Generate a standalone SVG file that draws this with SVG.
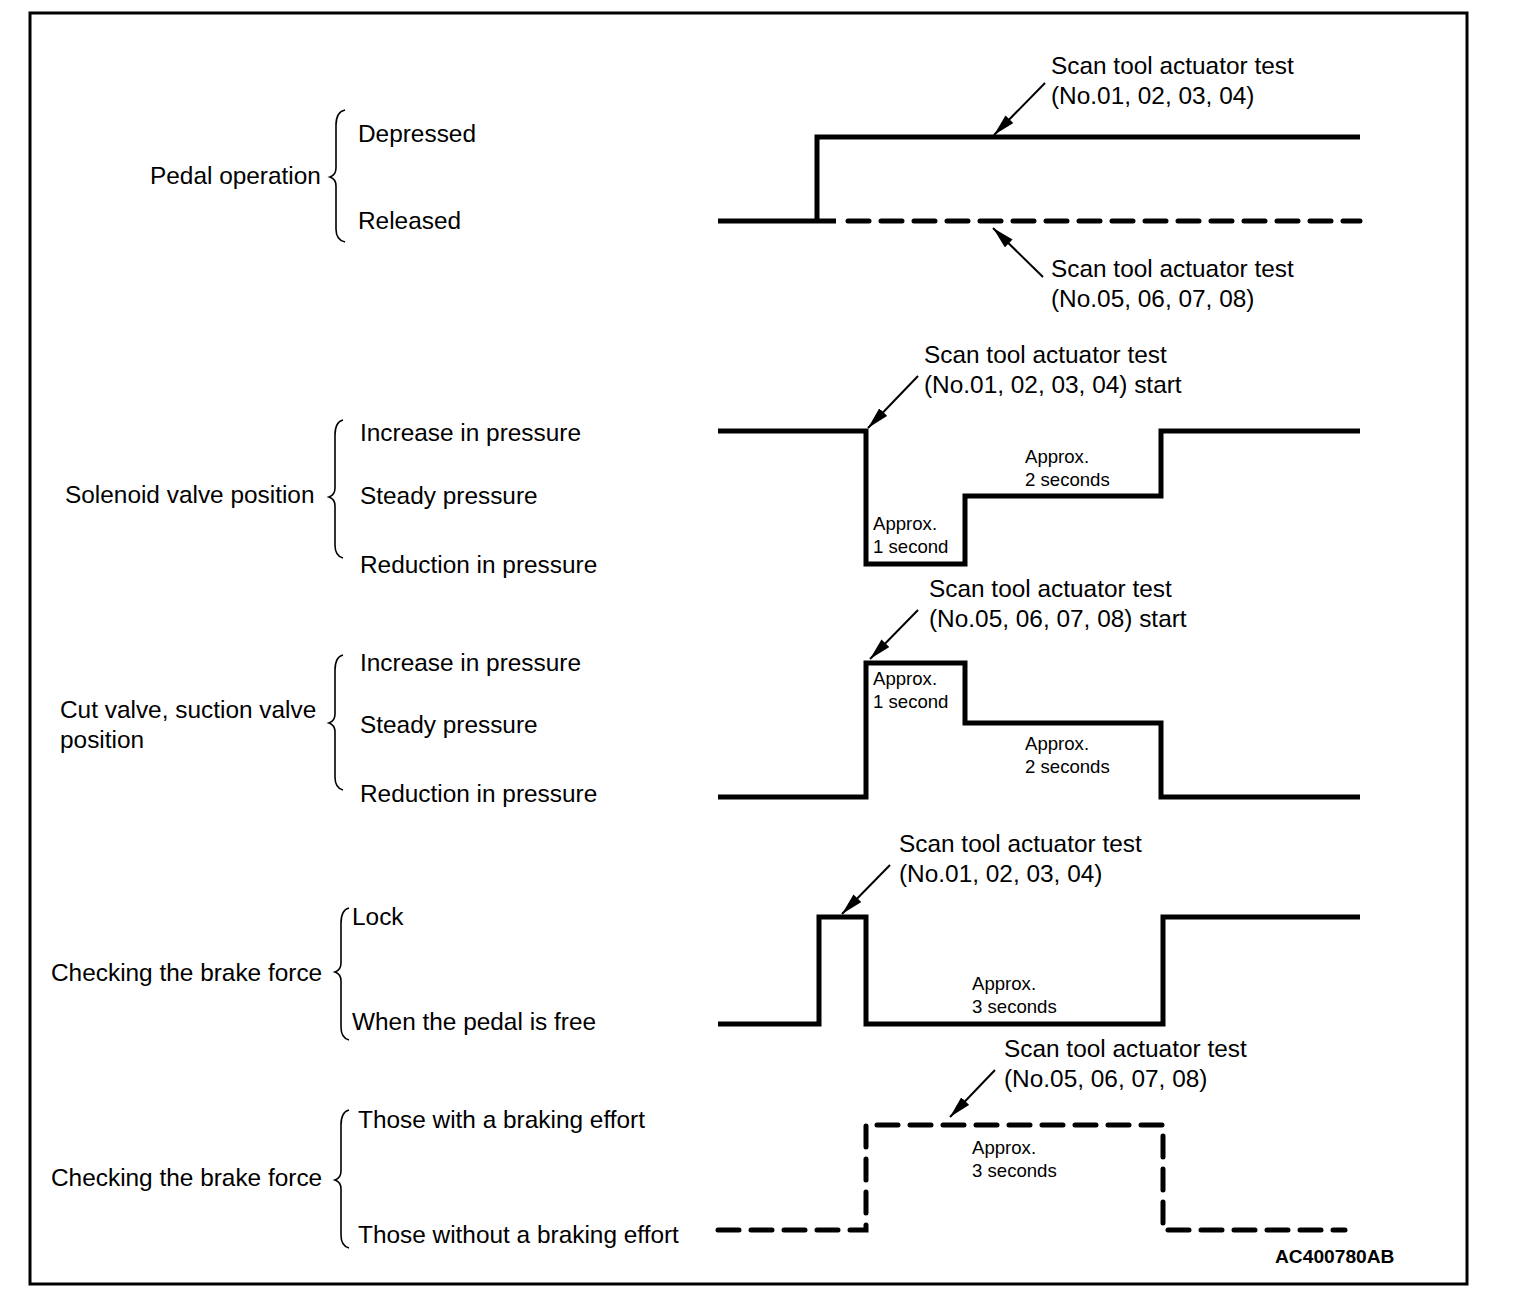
<svg xmlns="http://www.w3.org/2000/svg" width="1520" height="1292" viewBox="0 0 1520 1292">
<style>
.t{font-family:"Liberation Sans",Arial,sans-serif;font-size:24.4px;fill:#000}
.s{font-family:"Liberation Sans",Arial,sans-serif;font-size:18.6px;fill:#000}
.b{font-family:"Liberation Sans",Arial,sans-serif;font-size:19.2px;font-weight:bold;fill:#000}
.w{fill:none;stroke:#000;stroke-width:5;stroke-linejoin:miter}
.d{fill:none;stroke:#000;stroke-width:5;stroke-dasharray:21 12;stroke-linecap:round}
.br{fill:none;stroke:#000;stroke-width:1.6}
.ar{fill:none;stroke:#000;stroke-width:2;marker-end:url(#ah)}
</style>
<defs>
<marker id="ah" viewBox="0 0 22 11" refX="22" refY="5.5" markerWidth="22" markerHeight="11" markerUnits="userSpaceOnUse" orient="auto">
<path d="M0,0 L22,5.5 L0,11 z" fill="#000"/>
</marker>
</defs>
<rect x="30" y="13" width="1437" height="1271" fill="#fff" stroke="#000" stroke-width="3"/>

<g id="pedal">
<text class="t" x="150" y="184">Pedal operation</text>
<path class="br" d="M345,110 Q336,112 336,125 L336,168 Q336,175 330,177 Q336,179 336,186 L336,229 Q336,240 345,242"/>
<text class="t" x="358" y="142">Depressed</text>
<text class="t" x="358" y="229">Released</text>
</g>

<g id="solenoid">
<text class="t" x="65" y="503">Solenoid valve position</text>
<path class="br" d="M343,420 Q335,422 335,435 L335,488 Q335,495 329,497 Q335,499 335,506 L335,545 Q335,556 343,558"/>
<text class="t" x="360" y="441">Increase in pressure</text>
<text class="t" x="360" y="504">Steady pressure</text>
<text class="t" x="360" y="573">Reduction in pressure</text>
</g>

<g id="cutvalve">
<text class="t" x="60" y="718">Cut valve, suction valve</text>
<text class="t" x="60" y="748">position</text>
<path class="br" d="M343,655 Q335,657 335,670 L335,714 Q335,721 329,723 Q335,725 335,732 L335,777 Q335,788 343,790"/>
<text class="t" x="360" y="671">Increase in pressure</text>
<text class="t" x="360" y="733">Steady pressure</text>
<text class="t" x="360" y="802">Reduction in pressure</text>
</g>

<g id="brake1">
<text class="t" x="51" y="981">Checking the brake force</text>
<path class="br" d="M349,908 Q341,910 341,923 L341,963 Q341,970 335,972 Q341,974 341,981 L341,1027 Q341,1038 349,1040"/>
<text class="t" x="352" y="925">Lock</text>
<text class="t" x="352" y="1030">When the pedal is free</text>
</g>

<g id="brake2">
<text class="t" x="51" y="1186">Checking the brake force</text>
<path class="br" d="M349,1110 Q341,1112 341,1125 L341,1171 Q341,1178 335,1180 Q341,1182 341,1189 L341,1235 Q341,1246 349,1248"/>
<text class="t" x="358" y="1128">Those with a braking effort</text>
<text class="t" x="358" y="1243">Those without a braking effort</text>
</g>

<g id="connectors">
<polyline class="w" points="718,221 836,221"/>
<polyline class="w" points="817,221 817,137 1360,137"/>
<line class="d" x1="848" y1="221" x2="1360" y2="221"/>
<line class="ar" x1="1045" y1="83" x2="994" y2="135"/>
<line class="ar" x1="1043" y1="277" x2="993" y2="228"/>
<polyline class="w" points="718,431 866,431 866,564 965,564 965,496 1161,496 1161,431 1360,431"/>
<line class="ar" x1="918" y1="376" x2="868" y2="428"/>
<polyline class="w" points="718,797 866,797 866,663 965,663 965,723 1161,723 1161,797 1360,797"/>
<line class="ar" x1="918" y1="610" x2="870" y2="659"/>
<polyline class="w" points="718,1024 819,1024 819,917 866,917 866,1024 1163,1024 1163,917 1360,917"/>
<line class="ar" x1="890" y1="865" x2="842" y2="914"/>
<polyline class="d" points="718,1230 866,1230 866,1125 1163,1125 1163,1230 1345,1230"/>
<line class="ar" x1="995" y1="1070" x2="950" y2="1117"/>
</g>

<g id="labels">
<text class="t" x="1051" y="74">Scan tool actuator test</text>
<text class="t" x="1051" y="104">(No.01, 02, 03, 04)</text>
<text class="t" x="1051" y="277">Scan tool actuator test</text>
<text class="t" x="1051" y="307">(No.05, 06, 07, 08)</text>
<text class="t" x="924" y="363">Scan tool actuator test</text>
<text class="t" x="924" y="393">(No.01, 02, 03, 04) start</text>
<text class="s" x="873" y="530">Approx.</text>
<text class="s" x="873" y="553">1 second</text>
<text class="s" x="1025" y="463">Approx.</text>
<text class="s" x="1025" y="486">2 seconds</text>
<text class="t" x="929" y="597">Scan tool actuator test</text>
<text class="t" x="929" y="627">(No.05, 06, 07, 08) start</text>
<text class="s" x="873" y="685">Approx.</text>
<text class="s" x="873" y="708">1 second</text>
<text class="s" x="1025" y="750">Approx.</text>
<text class="s" x="1025" y="773">2 seconds</text>
<text class="t" x="899" y="852">Scan tool actuator test</text>
<text class="t" x="899" y="882">(No.01, 02, 03, 04)</text>
<text class="s" x="972" y="990">Approx.</text>
<text class="s" x="972" y="1013">3 seconds</text>
<text class="t" x="1004" y="1057">Scan tool actuator test</text>
<text class="t" x="1004" y="1087">(No.05, 06, 07, 08)</text>
<text class="s" x="972" y="1154">Approx.</text>
<text class="s" x="972" y="1177">3 seconds</text>
<text class="b" x="1275" y="1263">AC400780AB</text>
</g>
</svg>
